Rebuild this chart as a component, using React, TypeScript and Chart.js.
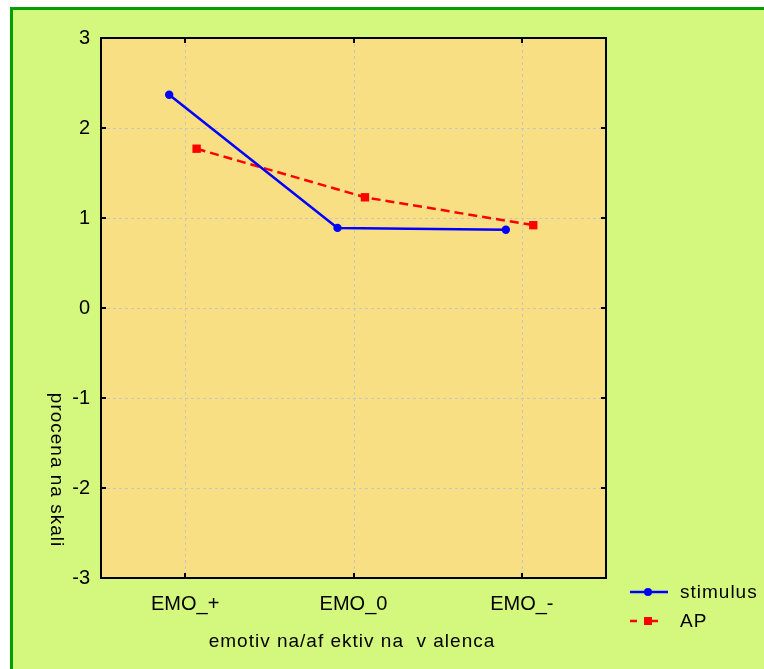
import React, { useEffect, useRef } from "react";
import { Chart, registerables } from "chart.js";

Chart.register(...registerables);

const categories = ["EMO_+", "EMO_0", "EMO_-"];
const stimulusValues = [2.37, 0.89, 0.87];
const apValues = [1.77, 1.23, 0.92];
const yTicks = [-3, -2, -1, 0, 1, 2, 3];
const seriesNames = ["stimulus", "AP"];
const xTitle = "emotiv na/af ektiv na  v alenca";
const yTitle = "procena na skali";

const STIM_SHIFT = -0.095;
const AP_SHIFT = 0.068;
const FONT = "'Liberation Sans', Arial, sans-serif";
const OUTER_BG = "#D4F77E";
const PLOT_BG = "#F9DF83";
const BORDER_GREEN = "#00A000";
const GRID_COLOR = "#C9C6C0";

const W = 764;
const H = 669;

function setSpacing(ctx: any, v: string) {
  try {
    ctx.letterSpacing = v;
  } catch (e) {}
}

const framePlugin = {
  id: "framePlugin",
  beforeDraw(chart: any) {
    const { ctx, chartArea } = chart;
    ctx.save();
    ctx.fillStyle = "#ffffff";
    ctx.fillRect(0, 0, W, H);
    ctx.fillStyle = OUTER_BG;
    ctx.fillRect(10, 7, W - 10, H - 7);
    ctx.strokeStyle = BORDER_GREEN;
    ctx.lineWidth = 3;
    ctx.beginPath();
    ctx.moveTo(11.5, H);
    ctx.lineTo(11.5, 8.5);
    ctx.lineTo(W, 8.5);
    ctx.stroke();
    ctx.fillStyle = PLOT_BG;
    ctx.fillRect(chartArea.left, chartArea.top, chartArea.right - chartArea.left, chartArea.bottom - chartArea.top);
    ctx.restore();
  },
  beforeDatasetsDraw(chart: any) {
    const { ctx, chartArea } = chart;
    const xs = chart.scales.x;
    const ys = chart.scales.y;
    ctx.save();
    ctx.strokeStyle = GRID_COLOR;
    ctx.lineWidth = 1;
    ctx.setLineDash([3, 3]);
    ctx.beginPath();
    categories.forEach((_, i) => {
      const px = Math.round(xs.getPixelForValue(i)) + 0.5;
      ctx.moveTo(px, chartArea.top);
      ctx.lineTo(px, chartArea.bottom);
    });
    yTicks.forEach((v) => {
      const py = Math.round(ys.getPixelForValue(v)) + 0.5;
      ctx.moveTo(chartArea.left, py);
      ctx.lineTo(chartArea.right, py);
    });
    ctx.stroke();
    ctx.restore();
  },
  afterDraw(chart: any) {
    const { ctx, chartArea } = chart;
    const xs = chart.scales.x;
    const ys = chart.scales.y;
    ctx.save();
    ctx.setLineDash([]);
    // frame
    ctx.strokeStyle = "#000000";
    ctx.lineWidth = 2;
    ctx.strokeRect(chartArea.left, chartArea.top, chartArea.right - chartArea.left, chartArea.bottom - chartArea.top);
    // inner ticks
    ctx.beginPath();
    categories.forEach((_, i) => {
      const px = Math.round(xs.getPixelForValue(i));
      ctx.moveTo(px, chartArea.bottom);
      ctx.lineTo(px, chartArea.bottom - 5);
      ctx.moveTo(px, chartArea.top);
      ctx.lineTo(px, chartArea.top + 5);
    });
    yTicks.forEach((v) => {
      const py = Math.round(ys.getPixelForValue(v));
      ctx.moveTo(chartArea.left, py);
      ctx.lineTo(chartArea.left + 5, py);
      ctx.moveTo(chartArea.right, py);
      ctx.lineTo(chartArea.right - 5, py);
    });
    ctx.stroke();

    // axis titles
    ctx.fillStyle = "#000000";
    ctx.font = `19px ${FONT}`;
    setSpacing(ctx, "1px");
    ctx.textAlign = "center";
    ctx.textBaseline = "middle";
    ctx.fillText(xTitle, 352, 642);
    ctx.save();
    ctx.translate(56, 470);
    ctx.rotate(Math.PI / 2);
    ctx.fillText(yTitle, 0, 0);
    ctx.restore();

    // legend
    ctx.textAlign = "left";
    // stimulus
    ctx.strokeStyle = "#0000FF";
    ctx.lineWidth = 2.5;
    ctx.beginPath();
    ctx.moveTo(630, 592);
    ctx.lineTo(668, 592);
    ctx.stroke();
    ctx.fillStyle = "#0000FF";
    ctx.beginPath();
    ctx.arc(648, 592, 4, 0, Math.PI * 2);
    ctx.fill();
    ctx.fillStyle = "#000000";
    ctx.fillText(seriesNames[0], 680, 593);
    // AP
    ctx.strokeStyle = "#FF0000";
    ctx.beginPath();
    ctx.moveTo(630, 621);
    ctx.lineTo(637, 621);
    ctx.moveTo(651, 621);
    ctx.lineTo(658, 621);
    ctx.stroke();
    ctx.fillStyle = "#FF0000";
    ctx.fillRect(644, 617, 8, 8);
    ctx.fillStyle = "#000000";
    ctx.fillText(seriesNames[1], 680, 622);
    setSpacing(ctx, "0px");
    ctx.restore();
  },
};

export default function App() {
  const ref = useRef<HTMLCanvasElement | null>(null);

  useEffect(() => {
    if (!ref.current) return;
    const chart = new Chart(ref.current, {
      type: "line",
      data: {
        datasets: [
          {
            label: seriesNames[0],
            data: stimulusValues.map((v, i) => ({ x: i + STIM_SHIFT, y: v })),
            borderColor: "#0000FF",
            backgroundColor: "#0000FF",
            borderWidth: 2.5,
            pointStyle: "circle",
            pointRadius: 4.2,
            pointBorderWidth: 0,
            fill: false,
            tension: 0,
          },
          {
            label: seriesNames[1],
            data: apValues.map((v, i) => ({ x: i + AP_SHIFT, y: v })),
            borderColor: "#FF0000",
            backgroundColor: "#FF0000",
            borderWidth: 2.5,
            borderDash: [9, 5],
            pointStyle: "rect",
            pointRadius: 5.9,
            pointBorderWidth: 0,
            fill: false,
            tension: 0,
          },
        ],
      },
      options: {
        responsive: false,
        animation: false,
        devicePixelRatio: 1,
        layout: { padding: { left: 0, top: 38, right: 158, bottom: 0 } },
        plugins: {
          legend: { display: false },
          tooltip: { enabled: false },
          title: { display: false },
        },
        scales: {
          x: {
            type: "linear",
            min: -0.5,
            max: 2.5,
            afterBuildTicks: (scale: any) => {
              scale.ticks = categories.map((_, i) => ({ value: i }));
            },
            afterFit: (scale: any) => {
              scale.height = 91;
            },
            ticks: {
              callback: (v: any) => categories[Math.round(Number(v))] ?? "",
              font: { family: FONT, size: 20 },
              color: "#000000",
              padding: 14,
              maxRotation: 0,
              autoSkip: false,
            },
            grid: { display: false, drawTicks: false },
            border: { display: false },
          },
          y: {
            type: "linear",
            min: -3,
            max: 3,
            afterBuildTicks: (scale: any) => {
              scale.ticks = yTicks.map((v) => ({ value: v }));
            },
            afterFit: (scale: any) => {
              scale.width = 101;
            },
            ticks: {
              font: { family: FONT, size: 20 },
              color: "#000000",
              padding: 11,
              callback: (v: any) => String(v),
            },
            grid: { display: false, drawTicks: false },
            border: { display: false },
          },
        },
      },
      plugins: [framePlugin],
    });
    return () => chart.destroy();
  }, []);

  return (
    <div style={{ position: "absolute", left: 0, top: 0, width: W, height: H }}>
      <canvas ref={ref} width={W} height={H} style={{ display: "block", width: W, height: H }} />
    </div>
  );
}
